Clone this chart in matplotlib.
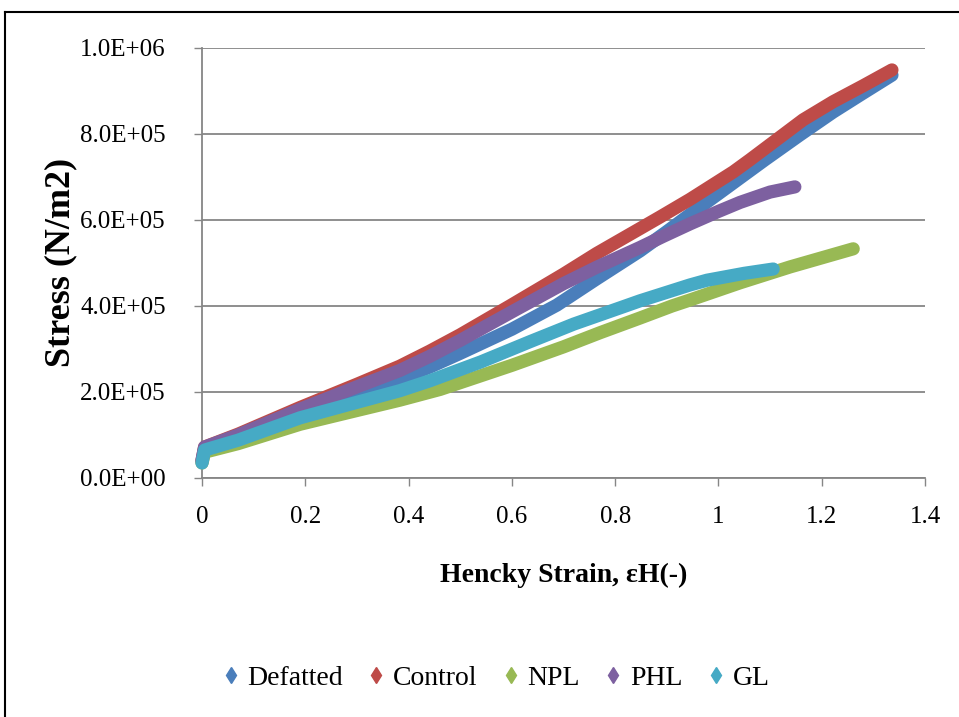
import matplotlib
matplotlib.use("Agg")
import matplotlib.pyplot as plt
from matplotlib.lines import Line2D
from matplotlib.ticker import FuncFormatter

# stress-strain curves, one pair of lists per sample
strain_defatted = [0, 0.005, 0.07, 0.19, 0.3, 0.383, 0.441, 0.5, 0.6, 0.687, 0.764, 0.848, 0.9, 0.945, 1.0, 1.09, 1.158, 1.222, 1.28, 1.336]
stress_defatted = [38000, 68000, 93000, 150000, 195000, 230000, 258000, 290000, 346000, 402000, 463000, 528000, 573000, 613000, 661000, 740000, 798000, 851000, 895000, 937000]

strain_control = [0, 0.005, 0.07, 0.19, 0.3, 0.383, 0.441, 0.5, 0.596, 0.7, 0.764, 0.848, 0.887, 0.945, 1.029, 1.061, 1.164, 1.222, 1.28, 1.336]
stress_control = [40000, 72000, 102000, 164000, 218000, 260000, 295000, 333000, 400000, 474000, 522000, 580000, 607000, 648000, 712000, 740000, 833000, 875000, 912000, 949000]

strain_npl = [0, 0.005, 0.07, 0.19, 0.3, 0.383, 0.461, 0.6, 0.7, 0.771, 0.848, 0.91, 0.945, 1.042, 1.139, 1.261]
stress_npl = [35000, 60000, 80000, 125000, 157000, 181000, 206000, 262000, 305000, 338000, 372000, 400000, 414000, 454000, 491000, 533000]

strain_phl = [0, 0.005, 0.07, 0.19, 0.3, 0.383, 0.441, 0.5, 0.61, 0.7, 0.764, 0.848, 0.893, 0.945, 1.0, 1.042, 1.1, 1.148]
stress_phl = [42000, 72000, 100000, 160000, 212000, 250000, 283000, 320000, 393000, 452000, 490000, 536000, 562000, 591000, 620000, 641000, 665000, 677000]

strain_gl = [0, 0.005, 0.07, 0.19, 0.3, 0.383, 0.441, 0.54, 0.635, 0.72, 0.815, 0.848, 0.945, 0.978, 1.05, 1.106]
stress_gl = [35000, 65000, 88000, 140000, 176000, 203000, 226000, 270000, 317000, 358000, 398000, 412000, 449000, 460000, 476000, 486000]

labels = ["Defatted", "Control", "NPL", "PHL", "GL"]
colors = ["#4A7EBB", "#BE4B48", "#98B954", "#7D60A0", "#46AAC5"]
series = [(strain_defatted, stress_defatted), (strain_control, stress_control),
          (strain_npl, stress_npl), (strain_phl, stress_phl), (strain_gl, stress_gl)]

x_ticks = [0, 0.2, 0.4, 0.6, 0.8, 1, 1.2, 1.4]
x_ticklabels = ["0", "0.2", "0.4", "0.6", "0.8", "1", "1.2", "1.4"]
y_ticks = [0, 2e5, 4e5, 6e5, 8e5, 1e6]

plt.rcParams["font.family"] = ["Liberation Serif", "DejaVu Serif"]
grey = "#868686"

W, H = 959, 717
fig = plt.figure(figsize=(W / 100, H / 100), dpi=100)
ax = fig.add_axes([202 / W, 1 - 478 / H, 723 / W, 430 / H])

for (x, y), c in zip(series, colors):
    ax.plot(x, y, color=c, lw=9.5, solid_capstyle="round", solid_joinstyle="round", clip_on=False, zorder=3)

ax.set_xlim(0, 1.4)
ax.set_ylim(0, 1e6)
ax.set_xticks(x_ticks)
ax.set_xticklabels(x_ticklabels)
ax.set_yticks(y_ticks)
ax.yaxis.set_major_formatter(FuncFormatter(lambda v, p: f"{v:.1E}"))

ax.grid(axis="y", color=grey, lw=1.3)
ax.set_axisbelow(True)
for s in ["top", "right"]:
    ax.spines[s].set_visible(False)
for s in ["left", "bottom"]:
    ax.spines[s].set_color(grey)
    ax.spines[s].set_linewidth(1.3)
ax.tick_params(axis="y", length=6, width=1, color=grey, pad=20, labelsize=18)
ax.tick_params(axis="x", length=6, width=1, color=grey, pad=14, labelsize=18)

ax.set_ylabel("Stress (N/m2)", fontsize=26, fontweight="bold")
ax.yaxis.set_label_coords(-0.172, 0.502)
ax.set_xlabel("Hencky Strain, εH(-)", fontsize=20, fontweight="bold")
ax.xaxis.set_label_coords(0.5, -0.198)

handles = [Line2D([], [], ls="none", marker="d", markersize=8, color=c) for c in colors]
fig.legend(handles, labels, loc="center", bbox_to_anchor=(496 / W, 1 - 678 / H), ncol=5,
           frameon=False, fontsize=20, handlelength=0.6, handletextpad=0.3, columnspacing=0.9)

# outer frame (left and top edges)
fig.add_artist(Line2D([5 / W, 5 / W], [0, 1 - 12 / H], transform=fig.transFigure, color="black", lw=1.5))
fig.add_artist(Line2D([5 / W, 1], [1 - 12 / H, 1 - 12 / H], transform=fig.transFigure, color="black", lw=1.5))

fig.savefig("out.png", dpi=100)
